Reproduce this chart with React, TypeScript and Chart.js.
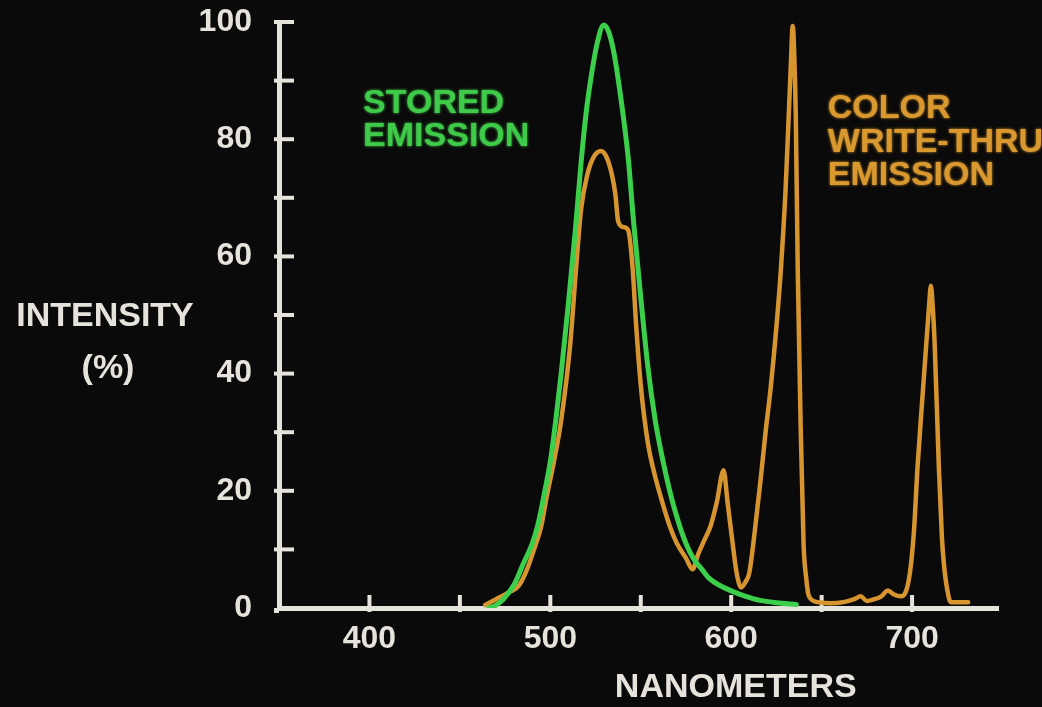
import React, { useEffect, useRef } from "react";
import { Chart, registerables } from "chart.js";

Chart.register(...registerables);

// ---- data (nm, % intensity) ----
const storedNm = [466, 470, 474, 480, 485, 490, 493, 497, 500, 503, 506, 510, 514, 517, 520, 523, 526, 529.5, 532, 535, 539, 543, 546, 550, 554, 558, 561, 566, 570, 575, 579, 584, 588, 594, 601, 608, 616, 625, 636];
const storedPct = [0, 0.5, 1.5, 4, 7.5, 11, 14, 20, 25, 32, 40, 52, 65, 76, 85, 91.5, 96.5, 99.5, 98.5, 95, 87, 77, 66, 53, 41, 32, 27, 20, 15.5, 11, 8.5, 6.5, 5, 3.8, 2.8, 2, 1.3, 0.9, 0.6];

const writeThruNm = [464, 470, 476, 483, 487, 491, 495, 498, 502, 506, 511, 514, 517, 520.5, 524, 528, 531, 534, 536, 537.5, 540.5, 543, 545.5, 547.5, 550, 554, 557.5, 561, 566, 570, 575, 578.7, 581.5, 585, 588.6, 592, 595.8, 598, 600.8, 603, 605.5, 608, 610, 613, 616.3, 619, 621.8, 625, 627.4, 630, 631.8, 633, 634, 635, 635.7, 636.8, 638.4, 640, 641.5, 643, 648, 655, 662, 668, 671.6, 675, 679, 683, 686.6, 690, 694, 698.3, 701, 703, 705.5, 707.6, 709.5, 710.4, 711.3, 712.5, 714.8, 716.5, 717.6, 719.5, 721.4, 726, 731];
const writeThruPct = [0.5, 1.5, 2.5, 4, 6.5, 10, 14, 19, 25, 32, 45, 57, 68, 74, 77, 78, 77, 74, 70.5, 66, 65, 64.5, 58, 48, 38, 28, 23, 19, 14, 11, 8.5, 6.6, 9, 11.5, 14, 18, 23.5, 18, 11, 6, 3.5, 4.5, 6, 13, 22, 30, 37.5, 48, 57.5, 71, 84, 93, 99.3, 93, 84, 57.5, 31, 11, 5, 2, 1, 0.8, 1, 1.5, 2, 1.2, 1.5, 2, 3, 2.3, 2, 5, 13, 24, 35, 44, 52, 55, 52, 45, 24, 12, 7.5, 3, 1, 1, 1];

const xTickLabels = [400, 500, 600, 700];
const xTickMarks = [400, 450, 500, 550, 600, 650, 700];
const yTickLabels = [0, 20, 40, 60, 80, 100];
const yTickMarks = [10, 20, 30, 40, 50, 60, 70, 80, 90, 100];

const yTitleLines = ["INTENSITY", "(%)"];
const xTitle = "NANOMETERS";
const storedLabel = ["STORED", "EMISSION"];
const writeThruLabel = ["COLOR", "WRITE-THRU", "EMISSION"];

// ---- styles ----
const GREEN = "#3ccf4c";
const GREEN_TEXT = "#3fca4a";
const ORANGE = "#d6952f";
const ORANGE_TEXT = "#d9992f";
const AXIS = "#e6e2dc";
const BG = "#0b0a0a";
const FONT = '"Liberation Sans", Arial, Helvetica, sans-serif';

const decor = {
  id: "decor",
  beforeDraw(chart: any) {
    const { ctx, width, height } = chart;
    ctx.save();
    ctx.fillStyle = BG;
    ctx.fillRect(0, 0, width, height);
    ctx.restore();
  },
  beforeDatasetsDraw(chart: any) {
    const { ctx, chartArea, scales } = chart;
    const { left, bottom, top } = chartArea;
    const x = scales.x;
    const y = scales.y;
    ctx.save();
    ctx.strokeStyle = AXIS;
    ctx.fillStyle = AXIS;
    ctx.lineWidth = 4;
    for (const v of yTickMarks) {
      const py = y.getPixelForValue(v);
      ctx.beginPath();
      ctx.moveTo(left - 5, py);
      ctx.lineTo(left + 15, py);
      ctx.stroke();
    }
    for (const v of xTickMarks) {
      const px = x.getPixelForValue(v);
      ctx.beginPath();
      ctx.moveTo(px, bottom + 4);
      ctx.lineTo(px, bottom - 13);
      ctx.stroke();
    }
    ctx.fillRect(left - 5, bottom, 5, 5);
    ctx.fillRect(left - 5, top - 2, 5, 3);
    ctx.restore();
  },
  afterDraw(chart: any) {
    const { ctx, chartArea, scales } = chart;
    const x = scales.x;
    const y = scales.y;
    ctx.save();
    ctx.font = `bold 34px ${FONT}`;
    ctx.fillStyle = AXIS;
    ctx.textAlign = "center";
    ctx.textBaseline = "middle";
    ctx.fillText(yTitleLines[0], chartArea.left - 174, y.getPixelForValue(50) + 2);
    ctx.fillText(yTitleLines[1], chartArea.left - 171, y.getPixelForValue(50) + 54);
    ctx.fillText(xTitle, x.getPixelForValue(602.5), chartArea.bottom + 80);

    ctx.textAlign = "left";
    ctx.textBaseline = "alphabetic";
    ctx.shadowBlur = 3;
    ctx.shadowColor = GREEN_TEXT;
    ctx.fillStyle = GREEN_TEXT;
    const sx = x.getPixelForValue(396.5);
    const sy = y.getPixelForValue(84.5);
    storedLabel.forEach((t, i) => ctx.fillText(t, sx, sy + i * 33));
    ctx.shadowColor = ORANGE_TEXT;
    ctx.fillStyle = ORANGE_TEXT;
    const cx = x.getPixelForValue(653.4);
    const cy = y.getPixelForValue(83.6);
    writeThruLabel.forEach((t, i) => ctx.fillText(t, cx, cy + i * 33.5));
    ctx.restore();
  },
};

export default function App() {
  const ref = useRef<HTMLCanvasElement>(null);

  useEffect(() => {
    const canvas = ref.current;
    if (!canvas) return;
    const tickFont = { family: FONT, size: 32, weight: "bold" as const };
    const chart = new Chart(canvas, {
      type: "line",
      data: {
        datasets: [
          {
            label: "Stored emission",
            data: storedNm.map((v, i) => ({ x: v, y: storedPct[i] })),
            borderColor: GREEN,
            borderWidth: 5,
            pointRadius: 0,
            cubicInterpolationMode: "monotone",
            borderJoinStyle: "round",
            borderCapStyle: "round",
            order: 0,
          },
          {
            label: "Color write-thru emission",
            data: writeThruNm.map((v, i) => ({ x: v, y: writeThruPct[i] })),
            borderColor: ORANGE,
            borderWidth: 4.5,
            pointRadius: 0,
            cubicInterpolationMode: "monotone",
            borderJoinStyle: "round",
            borderCapStyle: "round",
            order: 1,
          },
        ],
      },
      options: {
        responsive: false,
        maintainAspectRatio: false,
        animation: false,
        layout: { padding: { top: 22, right: 44, left: 0, bottom: 0 } },
        plugins: {
          legend: { display: false },
          tooltip: { enabled: false },
          title: { display: false },
        },
        scales: {
          x: {
            type: "linear",
            min: 350,
            max: 747.5,
            grid: { display: true, drawOnChartArea: false, drawTicks: false },
            border: { display: true, color: AXIS, width: 5 },
            ticks: {
              autoSkip: false,
              maxRotation: 0,
              padding: 12,
              color: AXIS,
              font: tickFont,
              callback: (v: any) => (xTickLabels.includes(Number(v)) ? String(v) : ""),
            },
            afterBuildTicks: (s: any) => {
              s.ticks = xTickMarks.map((v) => ({ value: v }));
            },
            afterFit: (s: any) => {
              s.height = 99;
              s.paddingLeft = 0;
              s.paddingRight = 0;
            },
          },
          y: {
            type: "linear",
            min: 0,
            max: 100,
            grid: { display: true, drawOnChartArea: false, drawTicks: false },
            border: { display: true, color: AXIS, width: 5 },
            ticks: {
              autoSkip: false,
              padding: 27,
              color: AXIS,
              font: tickFont,
              callback: (v: any) => (yTickLabels.includes(Number(v)) ? String(v) : ""),
            },
            afterBuildTicks: (s: any) => {
              s.ticks = [0, ...yTickMarks].map((v) => ({ value: v }));
            },
            afterFit: (s: any) => {
              s.width = 279;
              s.paddingTop = 0;
              s.paddingBottom = 0;
            },
          },
        },
      },
      plugins: [decor],
    } as any);
    return () => chart.destroy();
  }, []);

  return (
    <div
      style={{
        position: "absolute",
        left: 0,
        top: 0,
        width: 1042,
        height: 707,
        background: BG,
        overflow: "hidden",
      }}
    >
      <canvas ref={ref} width={1042} height={707} style={{ display: "block", width: 1042, height: 707 }} />
    </div>
  );
}
